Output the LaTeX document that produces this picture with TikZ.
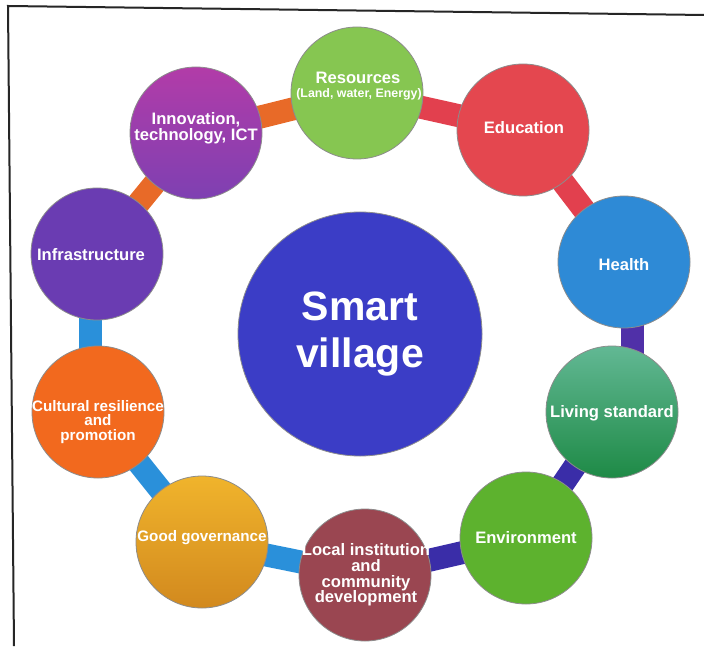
\documentclass[tikz,border=0pt]{standalone}
\usepackage{fontspec}
\setmainfont{Liberation Sans}
\pgfdeclarelayer{back}
\pgfsetlayers{back,main}
\definecolor{cRes}{HTML}{86C651}
\definecolor{cEdu}{HTML}{E4474F}
\definecolor{cHea}{HTML}{2E8AD6}
\definecolor{cLivT}{HTML}{62B894}
\definecolor{cLivB}{HTML}{1E8A46}
\definecolor{cEnv}{HTML}{5DB22E}
\definecolor{cLoc}{HTML}{9A4651}
\definecolor{cGovT}{HTML}{F0B42C}
\definecolor{cGovB}{HTML}{D2891E}
\definecolor{cCul}{HTML}{F2691E}
\definecolor{cInf}{HTML}{6A3CB2}
\definecolor{cInnT}{HTML}{B23CA8}
\definecolor{cInnB}{HTML}{7E40B2}
\definecolor{cSma}{HTML}{3B3DC6}
\definecolor{bOra}{HTML}{E86A28}
\definecolor{bRed}{HTML}{E2404E}
\definecolor{bPur}{HTML}{5030A8}
\definecolor{bInd}{HTML}{3A2DA8}
\definecolor{bBlu}{HTML}{2A90DA}
\tikzset{
  ball/.style={circle, minimum size=66pt, inner sep=0pt, draw=black!45, line width=0.4pt},
  bigball/.style={circle, minimum size=122pt, inner sep=0pt, draw=black!45, line width=0.4pt, fill=cSma},
  lbl/.style={text=white, font=\bfseries\fontsize{8.3}{7.8}\selectfont, align=center, inner sep=0pt},
  slbl/.style={text=white, font=\bfseries\fontsize{7.6}{7.4}\selectfont, align=center, inner sep=0pt},
  bar/.style={line width=11.5pt, draw=#1},
  frame/.style={line width=1pt, draw=black!85}
}
\begin{document}
\begin{tikzpicture}[x=0.5pt,y=-0.5pt]
\useasboundingbox (0,0) rectangle (704,646);
\begin{pgfonlayer}{back}
  \fill[white] (0,0) rectangle (704,646);
\end{pgfonlayer}
% frame
\coordinate (fTL) at (8,6);
\coordinate (fTR) at (704,15);
\coordinate (fBL) at (14,646);
\draw[frame] (fTR) -- (fTL) -- (fBL);
% circles
\node[ball, fill=cRes] (res) at (357,93) {};
\node[ball, fill=cEdu] (edu) at (523,130) {};
\node[ball, fill=cHea] (hea) at (624,262) {};
\node[ball, top color=cLivT, bottom color=cLivB] (liv) at (612,412) {};
\node[ball, fill=cEnv] (env) at (526,538) {};
\node[ball, fill=cLoc] (loc) at (365,575) {};
\node[ball, top color=cGovT, bottom color=cGovB] (gov) at (202,542) {};
\node[ball, fill=cCul] (cul) at (98,412) {};
\node[ball, fill=cInf] (inf) at (97,254) {};
\node[ball, top color=cInnT, bottom color=cInnB] (inn) at (196,133) {};
\node[bigball] (sma) at (360,334) {};
% connectors
\begin{pgfonlayer}{back}
  \draw[bar=bOra] (inn.center) -- (res.center);
  \draw[bar=bRed] (res.center) -- (edu.center);
  \draw[bar=bRed] (edu.center) -- (hea.center);
  \draw[bar=bPur] ([xshift=4pt]hea.center) -- ([xshift=10pt]liv.center);
  \draw[bar=bInd] (liv.center) -- (env.center);
  \draw[bar=bInd] (env.center) -- (loc.center);
  \draw[bar=bBlu] (loc.center) -- (gov.center);
  \draw[bar=bBlu] (gov.center) -- (cul.center);
  \draw[bar=bBlu] ([xshift=-4pt]cul.center) -- ([xshift=-3.5pt]inf.center);
  \draw[bar=bOra] (inf.center) -- (inn.center);
\end{pgfonlayer}
% labels
\node[lbl] (tRes) at (358,78) {Resources};
\node[text=white, font=\bfseries\fontsize{6.2}{6.2}\selectfont, inner sep=0pt] (tRes2) at (359,94) {(Land, water, Energy)};
\node[lbl] (tEdu) at (524,128) {Education};
\node[lbl] (tHea) at (624,265) {Health};
\node[lbl] (tLiv) at (612,413) {Living standard};
\node[lbl] (tEnv) at (526,538) {Environment};
\node[lbl] (tLoc) at (366,575) {Local institution\\and\\community\\development};
\node[slbl] (tGov) at (202,538) {Good governance};
\node[slbl] (tCul) at (98,422) {Cultural resilience\\and\\promotion};
\node[lbl] (tInf) at (91,255) {Infrastructure};
\node[lbl] (tInn) at (196,128) {Innovation,\\technology, ICT};
\node[text=white, font=\bfseries\fontsize{20.5}{23.5}\selectfont, align=center, inner sep=0pt] (tSma) at (360,334) {Smart\\village};
\end{tikzpicture}
\end{document}
